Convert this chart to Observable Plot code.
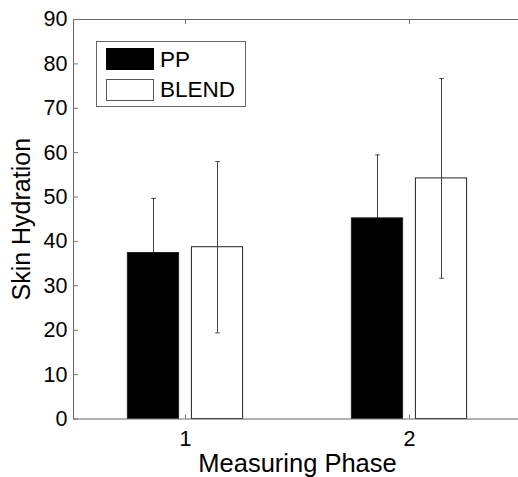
<!DOCTYPE html>
<html><head><meta charset="utf-8">
<script src="https://cdn.jsdelivr.net/npm/d3@7"></script>
<script src="https://cdn.jsdelivr.net/npm/@observablehq/plot@0.6"></script>
<style>
body{margin:0;background:#fff;}
#wrap{position:relative;width:518px;height:477px;overflow:hidden;font-family:"Liberation Sans",Arial,sans-serif;background:#fff;}
#legend{position:absolute;left:96px;top:41px;width:150px;height:66px;border:1px solid #666;background:#fff;box-sizing:border-box;}
.item{position:absolute;left:9px;height:23px;display:flex;align-items:center;}
.sw{width:48px;height:22px;border:1px solid #555;box-sizing:border-box;margin-right:6px;}
.lab{font-size:22.5px;color:#000;line-height:23px;}
</style></head><body><div id="wrap"></div>
<script>
const phases = [1, 2];
const seriesNames = ["PP", "BLEND"];
const ppMean = [37.4, 45.2];
const ppErr = [12.3, 14.3];
const blendMean = [38.7, 54.2];
const blendErr = [19.3, 22.5];
const yTicks = [0, 10, 20, 30, 40, 50, 60, 70, 80, 90];
const xTicks = [1, 2];
const xLabel = "Measuring Phase";
const yLabel = "Skin Hydration";

const seriesColors = ["#000000", "#ffffff"];
const offset = 0.1429, halfW = 0.1143, capW = 0.01;
const means = [ppMean, blendMean], errs = [ppErr, blendErr];
const rows = [];
phases.forEach((p, i) => {
  seriesNames.forEach((s, j) => {
    rows.push({phase: p, series: s, cx: p + (j === 0 ? -offset : offset),
      mean: means[j][i], lo: means[j][i] - errs[j][i], hi: means[j][i] + errs[j][i]});
  });
});
const ppRows = rows.filter(d => d.series === seriesNames[0]);

const font = "Liberation Sans, Arial, sans-serif";
const chart = Plot.plot({
  width: 518, height: 477,
  marginLeft: 73, marginRight: -3, marginTop: 19, marginBottom: 58.5,
  style: {fontFamily: font, background: "transparent", overflow: "visible"},
  x: {domain: [0.5, 2.5]},
  y: {domain: [0, 90]},
  color: {domain: seriesNames, range: seriesColors},
  marks: [
    Plot.rectY(rows, {x1: d => d.cx - halfW, x2: d => d.cx + halfW, y1: 0, y2: "mean", fill: "series", stroke: "#222", strokeWidth: 1}),
    Plot.ruleX(rows, {x: "cx", y1: "lo", y2: "hi", stroke: "#444", strokeWidth: 1}),
    Plot.ruleX(ppRows, {x: "cx", y1: "lo", y2: "mean", stroke: "#000", strokeWidth: 1.5}),
    Plot.link(rows, {x1: d => d.cx - capW, x2: d => d.cx + capW, y1: "hi", y2: "hi", stroke: "#444"}),
    Plot.link(rows, {x1: d => d.cx - capW, x2: d => d.cx + capW, y1: "lo", y2: "lo", stroke: d => d.series === seriesNames[0] ? "#000" : "#444"}),
    Plot.frame({stroke: "#666"}),
    Plot.axisY(yTicks, {anchor: "left", tickSize: -5, tickPadding: 11, fontSize: 21.5, label: null, stroke: "#777", fill: "#000"}),
    Plot.axisY(yTicks, {anchor: "right", tickSize: -4, tickFormat: () => "", label: null, stroke: "#777"}),
    Plot.axisX(xTicks, {anchor: "top", tickSize: -4, tickFormat: () => "", label: null, stroke: "#777"}),
    Plot.axisX(xTicks, {anchor: "bottom", tickSize: -4, tickPadding: 15.5, tickFormat: d => String(d), fontSize: 21.5, label: null, stroke: "#777", fill: "#000"}),
    Plot.text([yLabel], {frameAnchor: "left", rotate: -90, dx: -52, textAnchor: "middle", lineAnchor: "middle", fontSize: 25, fill: "#000"}),
    Plot.text([xLabel], {frameAnchor: "bottom", dy: 44.5, textAnchor: "middle", lineAnchor: "middle", fontSize: 25.5, fill: "#000"})
  ]
});
const wrap = document.getElementById("wrap");
wrap.appendChild(chart);

const legend = document.createElement("div");
legend.id = "legend";
seriesNames.forEach((s, j) => {
  const it = document.createElement("div");
  it.className = "item";
  it.style.top = (j === 0 ? 5.5 : 36) + "px";
  const sw = document.createElement("div");
  sw.className = "sw";
  sw.style.background = seriesColors[j];
  if (j === 0) sw.style.borderColor = "#000";
  const lb = document.createElement("span");
  lb.className = "lab";
  lb.textContent = s;
  it.appendChild(sw); it.appendChild(lb);
  legend.appendChild(it);
});
wrap.appendChild(legend);
</script>
</body></html>
